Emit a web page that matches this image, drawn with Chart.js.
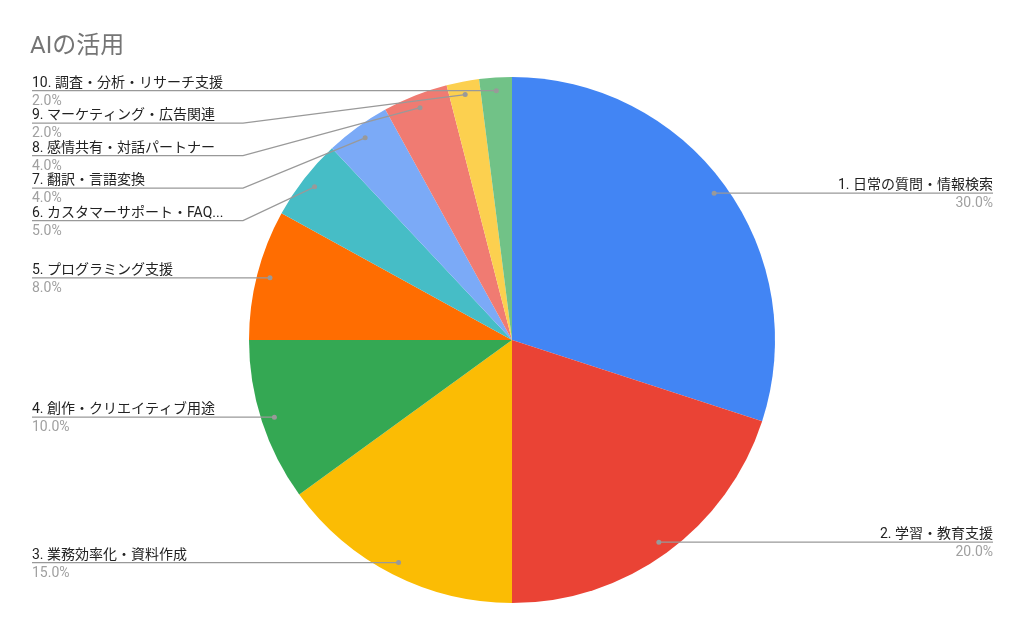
<!DOCTYPE html>
<html>
<head>
<meta charset="utf-8">
<script src="https://cdn.jsdelivr.net/npm/chart.js@4"></script>
<style>
  html, body { margin: 0; padding: 0; background: #ffffff; }
  #wrap { width: 1024px; height: 634px; position: relative; }
</style>
</head>
<body>
<div id="wrap"><canvas id="c" width="1024" height="634"></canvas></div>
<script>
// Chart content
const chartTitle = 'AIの活用';
const categories = [
  '1. 日常の質問・情報検索',
  '2. 学習・教育支援',
  '3. 業務効率化・資料作成',
  '4. 創作・クリエイティブ用途',
  '5. プログラミング支援',
  '6. カスタマーサポート・FAQ...',
  '7. 翻訳・言語変換',
  '8. 感情共有・対話パートナー',
  '9. マーケティング・広告関連',
  '10. 調査・分析・リサーチ支援'
];
const shares = [30, 20, 15, 10, 8, 5, 4, 4, 2, 2];
const sliceColors = [
  '#4285F4', '#EA4335', '#FBBC04', '#34A853', '#FF6D01',
  '#46BDC6', '#7BAAF7', '#F07B72', '#FCD04F', '#71C287'
];

const FONT = "Roboto, 'Noto Sans CJK JP', 'Noto Sans', sans-serif";

// Title, leader lines and side labels drawn after the pie
const sideLabels = {
  id: 'sideLabels',
  afterDraw(chart) {
    const ctx = chart.ctx;
    const meta = chart.getDatasetMeta(0);
    const values = chart.data.datasets[0].data;
    const total = values.reduce((a, b) => a + b, 0);

    ctx.save();
    ctx.fillStyle = '#757575';
    ctx.font = '24px ' + FONT;
    ctx.textAlign = 'left';
    ctx.textBaseline = 'alphabetic';
    ctx.fillText(chartTitle, 30, 53);

    const leftX = 32, rightX = 993, leftElbow = 243, rightElbow = 781, gap = 32.5;
    const items = meta.data.map((arc, i) => {
      const mid = (arc.startAngle + arc.endAngle) / 2;
      const r = arc.outerRadius * 0.95;
      return {
        i,
        ax: arc.x + Math.cos(mid) * r,
        ay: arc.y + Math.sin(mid) * r,
        right: Math.cos(mid) >= 0
      };
    });

    // stack labels on each side so they never overlap
    [true, false].forEach(side => {
      const group = items.filter(it => it.right === side).sort((a, b) => a.ay - b.ay);
      let prev = -Infinity;
      group.forEach(it => {
        it.ly = Math.max(it.ay, prev + gap);
        prev = it.ly;
      });
    });

    items.forEach(it => {
      ctx.strokeStyle = '#999999';
      ctx.lineWidth = 1.2;
      ctx.beginPath();
      if (it.right) {
        ctx.moveTo(it.ax, it.ay);
        if (Math.abs(it.ly - it.ay) > 0.5) ctx.lineTo(rightElbow, it.ly);
        ctx.lineTo(rightX, it.ly);
      } else {
        ctx.moveTo(leftX, it.ly);
        if (Math.abs(it.ly - it.ay) > 0.5) ctx.lineTo(leftElbow, it.ly);
        ctx.lineTo(it.ax, it.ay);
      }
      ctx.stroke();

      ctx.fillStyle = '#999999';
      ctx.beginPath();
      ctx.arc(it.ax, it.ay, 2.5, 0, Math.PI * 2);
      ctx.fill();

      const pct = (values[it.i] / total * 100).toFixed(1) + '%';
      ctx.textAlign = it.right ? 'right' : 'left';
      const tx = it.right ? rightX : leftX;
      ctx.font = '14px ' + FONT;
      ctx.fillStyle = '#222222';
      ctx.fillText(chart.data.labels[it.i], tx, it.ly - 4);
      ctx.fillStyle = '#a0a0a0';
      ctx.fillText(pct, tx, it.ly + 14);
    });
    ctx.restore();
  }
};

new Chart(document.getElementById('c'), {
  type: 'pie',
  data: {
    labels: categories,
    datasets: [{
      data: shares,
      backgroundColor: sliceColors,
      borderWidth: 0
    }]
  },
  options: {
    responsive: false,
    animation: false,
    layout: { padding: { top: 77, bottom: 31, left: 249, right: 249 } },
    plugins: {
      legend: { display: false },
      title: { display: false },
      tooltip: { enabled: false }
    }
  },
  plugins: [sideLabels]
});
</script>
</body>
</html>
